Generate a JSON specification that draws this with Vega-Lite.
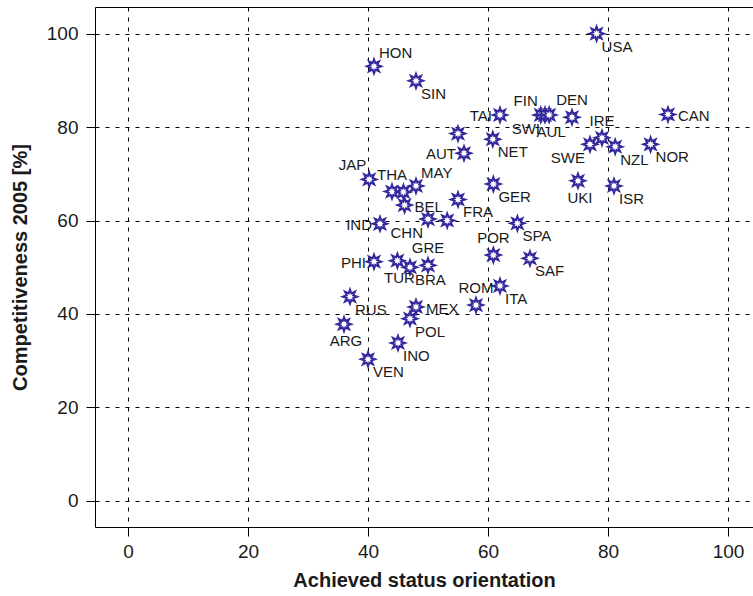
{
  "$schema": "https://vega.github.io/schema/vega-lite/v6.json",
  "width": 658,
  "height": 520,
  "autosize": {"type": "none"},
  "padding": {"left": 95, "top": 7, "right": 0, "bottom": 69},
  "background": "white",
  "config": {
    "view": {"stroke": "black", "strokeWidth": 1},
    "font": "Liberation Sans",
    "axis": {
      "domain": false,
      "grid": true,
      "gridColor": "black",
      "gridDash": [4, 6],
      "gridWidth": 1,
      "gridOpacity": 1,
      "tickColor": "black",
      "tickSize": 9,
      "tickWidth": 1,
      "labelFont": "Liberation Sans",
      "labelFontSize": 19,
      "labelColor": "#1a1a1a",
      "titleFont": "Liberation Sans",
      "titleFontSize": 20,
      "titleFontWeight": "bold",
      "titleColor": "#1a1a1a"
    }
  },
  "data": {
    "values": [
      {"country": "USA", "status": 78.1, "comp": 100.0, "pos": "lr"},
      {"country": "HON", "status": 41.0, "comp": 93.0, "pos": "ur"},
      {"country": "SIN", "status": 48.0, "comp": 89.9, "pos": "lr"},
      {"country": "TAI", "status": 62.0, "comp": 82.6, "pos": "l"},
      {"country": "FIN", "status": 68.8, "comp": 82.6, "pos": "ul"},
      {"country": "SWI", "status": 69.5, "comp": 82.6, "pos": "ll"},
      {"country": "AUL", "status": 70.2, "comp": 82.6, "pos": "b"},
      {"country": "DEN", "status": 74.0, "comp": 82.1, "pos": "a"},
      {"country": "IRE", "status": 79.0, "comp": 77.7, "pos": "a"},
      {"country": "SWE", "status": 77.0, "comp": 76.3, "pos": "ll"},
      {"country": "NZL", "status": 81.2, "comp": 75.8, "pos": "lr"},
      {"country": "CAN", "status": 90.0, "comp": 82.7, "pos": "r"},
      {"country": "NOR", "status": 87.1, "comp": 76.3, "pos": "lr"},
      {"country": "UKI", "status": 75.0, "comp": 68.5, "pos": "b"},
      {"country": "ISR", "status": 81.0, "comp": 67.4, "pos": "lr"},
      {"country": "", "status": 55.0, "comp": 78.6, "pos": "none"},
      {"country": "NET", "status": 60.8, "comp": 77.4, "pos": "lr"},
      {"country": "AUT", "status": 56.0, "comp": 74.4, "pos": "l"},
      {"country": "JAP", "status": 40.2, "comp": 68.8, "pos": "ul"},
      {"country": "THA", "status": 44.0, "comp": 66.2, "pos": "a"},
      {"country": "", "status": 45.9, "comp": 66.1, "pos": "none"},
      {"country": "BEL", "status": 46.1, "comp": 63.3, "pos": "r"},
      {"country": "MAY", "status": 48.0, "comp": 67.4, "pos": "ur"},
      {"country": "FRA", "status": 55.0, "comp": 64.5, "pos": "lr"},
      {"country": "GER", "status": 60.9, "comp": 67.8, "pos": "lr"},
      {"country": "IND", "status": 42.0, "comp": 59.3, "pos": "l"},
      {"country": "CHN", "status": 50.0, "comp": 60.3, "pos": "ll"},
      {"country": "", "status": 53.2, "comp": 60.0, "pos": "none"},
      {"country": "SPA", "status": 64.9, "comp": 59.4, "pos": "lr"},
      {"country": "POR", "status": 60.9, "comp": 52.6, "pos": "a"},
      {"country": "SAF", "status": 67.0, "comp": 51.9, "pos": "lr"},
      {"country": "PHI", "status": 41.0, "comp": 51.2, "pos": "l"},
      {"country": "TUR", "status": 44.9, "comp": 51.4, "pos": "b"},
      {"country": "BRA", "status": 47.0, "comp": 50.0, "pos": "lr"},
      {"country": "GRE", "status": 50.0, "comp": 50.4, "pos": "a"},
      {"country": "ITA", "status": 62.0, "comp": 46.0, "pos": "lr"},
      {"country": "ROM", "status": 58.0, "comp": 41.9, "pos": "a"},
      {"country": "RUS", "status": 37.0, "comp": 43.7, "pos": "lr"},
      {"country": "ARG", "status": 36.0, "comp": 37.8, "pos": "b"},
      {"country": "MEX", "status": 48.0, "comp": 41.5, "pos": "r"},
      {"country": "POL", "status": 47.0, "comp": 39.0, "pos": "lr"},
      {"country": "INO", "status": 45.0, "comp": 33.8, "pos": "lr"},
      {"country": "VEN", "status": 40.0, "comp": 30.3, "pos": "lr"}
    ]
  },
  "encoding": {
    "x": {
      "field": "status", "type": "quantitative",
      "scale": {"domain": [-5.5, 104.17], "nice": false, "zero": false},
      "axis": {"values": [0, 20, 40, 60, 80, 100], "title": "Achieved status orientation", "labelPadding": 6, "titlePadding": 9}
    },
    "y": {
      "field": "comp", "type": "quantitative",
      "scale": {"domain": [-5.6, 105.7], "nice": false, "zero": false},
      "axis": {"values": [0, 20, 40, 60, 80, 100], "title": "Competitiveness 2005 [%]", "labelPadding": 8, "titlePadding": 16}
    }
  },
  "layer": [
    {
      "mark": {
        "type": "point",
        "shape": "M0,-1L0.191,-0.462L0.707,-0.707L0.462,-0.191L1,0L0.462,0.191L0.707,0.707L0.191,0.462L0,1L-0.191,0.462L-0.707,0.707L-0.462,0.191L-1,0L-0.462,-0.191L-0.707,-0.707L-0.191,-0.462Z",
        "size": 200,
        "filled": true,
        "fill": "white",
        "stroke": "#33289c",
        "strokeWidth": 2,
        "opacity": 1
      }
    },
    {
      "transform": [{"filter": "datum.pos == 'lr'"}],
      "mark": {"type": "text", "align": "left", "baseline": "middle", "dx": 5, "dy": 13, "fontSize": 15, "font": "Liberation Sans", "fill": "#1a1a1a"},
      "encoding": {"text": {"field": "country"}}
    },
    {
      "transform": [{"filter": "datum.pos == 'ur'"}],
      "mark": {"type": "text", "align": "left", "baseline": "middle", "dx": 5, "dy": -13, "fontSize": 15, "font": "Liberation Sans", "fill": "#1a1a1a"},
      "encoding": {"text": {"field": "country"}}
    },
    {
      "transform": [{"filter": "datum.pos == 'll'"}],
      "mark": {"type": "text", "align": "right", "baseline": "middle", "dx": -5, "dy": 14, "fontSize": 15, "font": "Liberation Sans", "fill": "#1a1a1a"},
      "encoding": {"text": {"field": "country"}}
    },
    {
      "transform": [{"filter": "datum.pos == 'ul'"}],
      "mark": {"type": "text", "align": "right", "baseline": "middle", "dx": -3, "dy": -14, "fontSize": 15, "font": "Liberation Sans", "fill": "#1a1a1a"},
      "encoding": {"text": {"field": "country"}}
    },
    {
      "transform": [{"filter": "datum.pos == 'l'"}],
      "mark": {"type": "text", "align": "right", "baseline": "middle", "dx": -8, "dy": 1, "fontSize": 15, "font": "Liberation Sans", "fill": "#1a1a1a"},
      "encoding": {"text": {"field": "country"}}
    },
    {
      "transform": [{"filter": "datum.pos == 'r'"}],
      "mark": {"type": "text", "align": "left", "baseline": "middle", "dx": 10, "dy": 2, "fontSize": 15, "font": "Liberation Sans", "fill": "#1a1a1a"},
      "encoding": {"text": {"field": "country"}}
    },
    {
      "transform": [{"filter": "datum.pos == 'a'"}],
      "mark": {"type": "text", "align": "center", "baseline": "middle", "dx": 0, "dy": -17, "fontSize": 15, "font": "Liberation Sans", "fill": "#1a1a1a"},
      "encoding": {"text": {"field": "country"}}
    },
    {
      "transform": [{"filter": "datum.pos == 'b'"}],
      "mark": {"type": "text", "align": "center", "baseline": "middle", "dx": 2, "dy": 17, "fontSize": 15, "font": "Liberation Sans", "fill": "#1a1a1a"},
      "encoding": {"text": {"field": "country"}}
    }
  ]
}
